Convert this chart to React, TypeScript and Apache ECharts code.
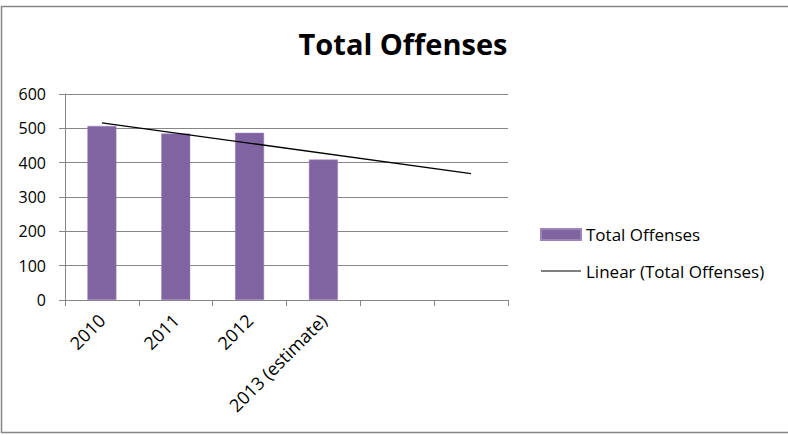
import React, { useEffect, useRef } from "react";
import * as echarts from "echarts";

const categories = ["2010", "2011", "2012", "2013 (estimate)", "", ""];
const offenses = [507, 485, 487, 409, null, null];
const trendName = "Linear (Total Offenses)";
const trendValues = [516, null, null, null, null, 368];
const yTicks = [0, 100, 200, 300, 400, 500, 600];

const FONT = "'Open Sans', sans-serif";
const GRAY = "#868686";

export default function App() {
  const ref = useRef<HTMLDivElement>(null);
  useEffect(() => {
    if (!ref.current) return;
    const chart = echarts.init(ref.current, null, { renderer: "svg" });
    chart.setOption({
      animation: false,
      backgroundColor: "#ffffff",
      textStyle: { fontFamily: FONT },
      title: {
        text: "Total Offenses",
        left: 398,
        top: 24,
        textAlign: "center",
        textStyle: { fontFamily: FONT, fontWeight: "bold", fontSize: 29, color: "#000" },
      },
      graphic: [
        {
          type: "rect",
          shape: { x: 1.5, y: 6.5, width: 820, height: 426 },
          style: { fill: "none", stroke: GRAY, lineWidth: 1.5 },
          silent: true,
        },
      ],
      legend: {
        orient: "vertical",
        left: 535,
        top: 221,
        itemWidth: 40,
        itemHeight: 11,
        itemGap: 19.5,
        textStyle: { fontFamily: FONT, fontSize: 17, color: "#000", lineHeight: 17 },
        data: [
          { name: "Total Offenses", icon: "rect" },
          { name: trendName, icon: "path://M0,0 H40 V1 H0 Z" },
        ],
      },
      grid: { left: 65, right: 280, top: 94, bottom: 135 },
      xAxis: {
        type: "category",
        data: categories,
        boundaryGap: true,
        axisLine: { lineStyle: { color: GRAY, width: 1 } },
        axisTick: { show: true, interval: 0, length: 6, lineStyle: { color: GRAY } },
        axisLabel: {
          interval: 0,
          rotate: 45,
          margin: 17,
          fontFamily: FONT,
          fontSize: 18,
          color: "#000",
        },
      },
      yAxis: {
        type: "value",
        min: yTicks[0],
        max: yTicks[yTicks.length - 1],
        interval: 100,
        axisLine: { show: true, lineStyle: { color: GRAY, width: 1 } },
        axisTick: { show: true, length: 6, lineStyle: { color: GRAY } },
        splitLine: { show: true, lineStyle: { color: GRAY, width: 1 } },
        axisLabel: { margin: 19, fontFamily: FONT, fontSize: 16, color: "#000" },
      },
      series: [
        {
          name: "Total Offenses",
          type: "bar",
          data: offenses,
          barWidth: 29,
          itemStyle: { color: "#8064A2", borderColor: "#9c86b8", borderWidth: 0.5 },
        },
        {
          name: trendName,
          type: "line",
          data: trendValues,
          connectNulls: true,
          symbol: "none",
          showSymbol: false,
          itemStyle: { color: "#000" },
          lineStyle: { color: "#000", width: 1.3 },
        },
      ],
    });
    return () => chart.dispose();
  }, []);
  return (
    <div
      ref={ref}
      style={{ position: "fixed", left: 0, top: 0, width: 788, height: 435 }}
    />
  );
}
